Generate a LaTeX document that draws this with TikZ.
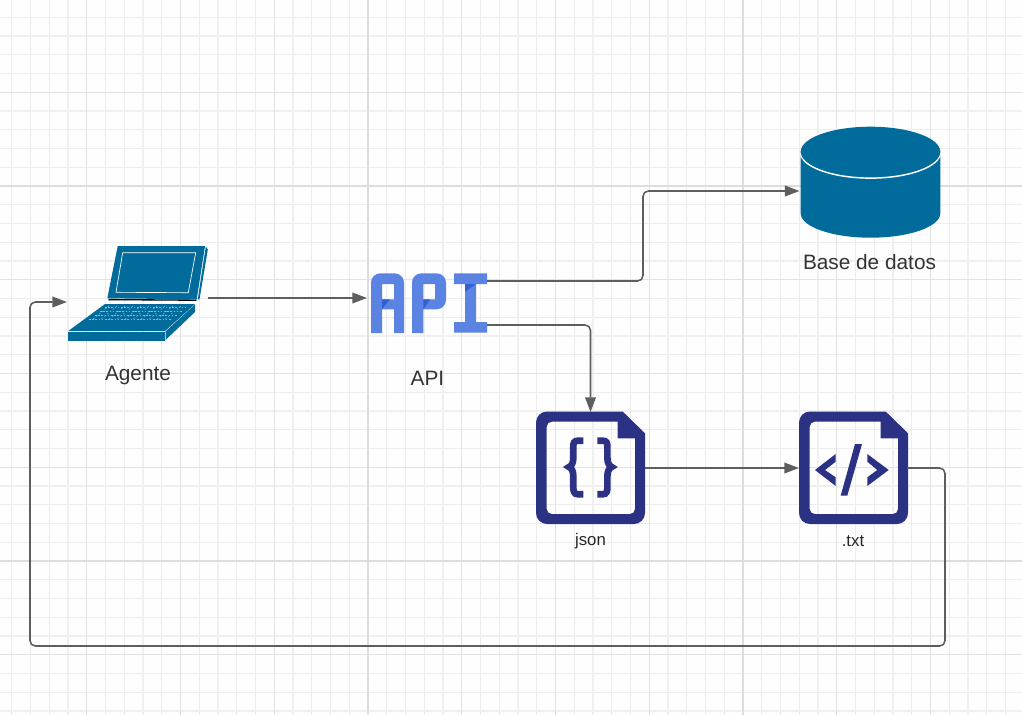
\documentclass[tikz,border=0pt]{standalone}
\usepackage{fontspec}
\setmainfont{Liberation Sans}
\usetikzlibrary{arrows.meta}
\definecolor{gridminor}{HTML}{EDEDED}
\definecolor{gridthick}{HTML}{F0F0F0}
\definecolor{gridmid}{HTML}{E2E2E2}
\definecolor{gridmajor}{HTML}{DDDDDD}
\definecolor{teal}{HTML}{016C9C}
\definecolor{navy}{HTML}{2B3284}
\definecolor{apilight}{HTML}{5B84E2}
\definecolor{apidark}{HTML}{2C62D6}
\definecolor{wire}{HTML}{5E5E5E}
\definecolor{labeltext}{HTML}{333333}
\tikzset{
  x=0.75pt,y=-0.75pt,
  box/.style 2 args={rectangle,minimum width=#1*0.75pt,minimum height=#2*0.75pt,inner sep=0pt,outer sep=0pt},
  biglabel/.style={text=labeltext,font=\fontsize{15.6pt}{18pt}\selectfont,inner sep=0pt},
  smalllabel/.style={text=black!85,font=\fontsize{12.6pt}{15pt}\selectfont,inner sep=0pt},
  wireline/.style={draw=wire,line width=1.15pt,rounded corners=4pt,-{Triangle[length=11pt,width=8pt]}},
  brace/.style={draw=navy,line width=5pt,line join=miter},
}
\newcommand{\fileicon}[1]{%
  \fill[navy,even odd rule,shift={(#1,0)}]
    (536,422.5) arc[start angle=180,end angle=270,radius=11] -- (622.7,411.5) -- (645,433.3) -- (645,513)
    arc[start angle=0,end angle=90,radius=11] -- (547,524)
    arc[start angle=90,end angle=180,radius=11] -- cycle
    (546.7,426.7) arc[start angle=180,end angle=270,radius=5] -- (617.7,421.7) -- (617.7,438.3) -- (635,438.3) -- (635,509)
    arc[start angle=0,end angle=90,radius=5] -- (551.7,514)
    arc[start angle=90,end angle=180,radius=5] -- cycle;%
}
\begin{document}
\begin{tikzpicture}
\useasboundingbox (0,0) rectangle (1022,715);
\fill[white!99.5!black] (0,0) rectangle (1022,715);
% grid
\foreach \x in {11.75,30.5,...,1022} \draw[gridminor,line width=0.9pt] (\x,0) -- (\x,715);
\foreach \y in {17.25,36,...,715} \draw[gridminor,line width=0.9pt] (0,\y) -- (1022,\y);
\foreach \x in {68,143,...,1022} \draw[gridthick,line width=1.7pt] (\x,0) -- (\x,715);
\foreach \y in {36,111,...,715} \draw[gridthick,line width=1.7pt] (0,\y) -- (1022,\y);
\foreach \x in {86.75,180.5,...,1022} \draw[gridmid,line width=0.9pt] (\x,0) -- (\x,715);
\foreach \y in {92.25,186,...,715} \draw[gridmid,line width=0.9pt] (0,\y) -- (1022,\y);
\foreach \x in {368,743} \draw[gridmajor,line width=1.6pt] (\x,0) -- (\x,715);
\foreach \y in {186,561} \draw[gridmajor,line width=1.6pt] (0,\y) -- (1022,\y);

% anchor boxes
\node[box={141}{104}] (laptop) at (137.5,298) {};
\node[box={120}{60}] (api) at (427,303) {};
\node[box={141}{111}] (db) at (870,182) {};
\node[box={109}{112}] (json) at (590.5,468) {};
\node[box={108}{112}] (txt) at (853,468) {};

% laptop
\fill[teal] (117.7,246) -- (205,246) -- (196.7,299.3) -- (107.3,298.3) -- cycle;
\fill[teal] (205.8,246.5) -- (207.8,249.5) -- (199.5,299.3) -- (197.8,299.3) -- cycle;
\draw[white,line width=0.5pt] (122.7,252.7) -- (195.7,252.7) -- (188.3,292.7) -- (116,292.3) -- cycle;
\draw[black,line width=1pt] (108.5,299.6) -- (196.5,300.2);
\fill[teal] (105,304) -- (195,304) -- (165,331) -- (68.3,331) -- cycle;
\fill[teal] (68.3,332) -- (164.5,332) -- (164.5,341) -- (68.3,341) -- cycle;
\fill[teal] (165.5,331.5) -- (195,304.5) -- (195,312) -- (165.5,340) -- cycle;
\draw[white!55!teal,line width=0.35pt,dash pattern=on 1.2pt off 1.2pt] (105,307.5) -- (186,307.5);
\draw[white!55!teal,line width=0.35pt,dash pattern=on 1.2pt off 1.2pt] (100,311) -- (183,311);
\draw[white!55!teal,line width=0.35pt,dash pattern=on 1.2pt off 1.2pt] (95,315) -- (178,315);
\draw[white!55!teal,line width=0.35pt,dash pattern=on 1.2pt off 1.2pt] (89,319) -- (172,319);
\foreach \d in {0,8,...,72}
  \draw[white!55!teal,line width=0.35pt,dash pattern=on 1.2pt off 1.6pt] (109+\d,306) -- (92+\d,320);

% API icon
\fill[apilight,even odd rule]
  (371,333) [rounded corners=7pt] -- (371,273.3) -- (404,273.3) [sharp corners] -- (404,333) -- (394,333) -- (394,309.3) -- (382,309.3) -- (382,333) -- cycle
  (382,284) -- (394,284) -- (394,299.3) -- (382,299.3) -- cycle;
\fill[apidark] (382,299.3) -- (390,299.3) -- (382,309.3) -- cycle;
\fill[apilight,even odd rule]
  (412,333) [rounded corners=7pt] -- (412,273.3) -- (446,273.3) -- (446,309.3) [sharp corners] -- (423.3,309.3) -- (423.3,333) -- cycle
  (423.3,284) -- (435,284) -- (435,299.3) -- (423.3,299.3) -- cycle;
\fill[apidark] (423.3,299.3) -- (430,299.3) -- (423.3,309.3) -- cycle;
\fill[apilight]
  (454,273.3) -- (487,273.3) -- (487,284) -- (476,284) -- (476,322) -- (487,322) -- (487,332.7) -- (454,332.7) -- (454,322) -- (465,322) -- (465,284) -- (454,284) -- cycle;
\fill[apidark] (465,284) -- (476,284) -- (465,291.7) -- cycle;

% database
\fill[teal] (800.7,151.7) -- (800.7,213.3) arc[start angle=180,end angle=0,x radius=69.8,y radius=24.4] -- (940.3,151.7) -- cycle;
\draw[white,line width=1.1pt] (800.7,152.5) arc[start angle=180,end angle=0,x radius=69.8,y radius=25.6];
\fill[teal] (800.7,151.7) arc[start angle=180,end angle=0,x radius=69.8,y radius=24.6] arc[start angle=0,end angle=-180,x radius=69.8,y radius=25] -- cycle;

% file icons
\fileicon{0}
\fileicon{263}
% curly braces
\draw[brace] (583.3,440.7) -- (578,440.7) .. controls (574,440.7) and (573.3,443) .. (573.3,447) -- (573.3,458) .. controls (573.3,463) and (571.5,466) .. (569,467) .. controls (571.5,468) and (573.3,471) .. (573.3,476) -- (573.3,487) .. controls (573.3,491) and (574,494.3) .. (578,494.3) -- (583.3,494.3);
\draw[brace] (597.3,440.7) -- (602.7,440.7) .. controls (606.7,440.7) and (607.4,443) .. (607.4,447) -- (607.4,458) .. controls (607.4,463) and (609.2,466) .. (611.7,467) .. controls (609.2,468) and (607.4,471) .. (607.4,476) -- (607.4,487) .. controls (607.4,491) and (606.7,494.3) .. (602.7,494.3) -- (597.3,494.3);
% code symbol
\fill[navy] (835.7,454) -- (835.7,461.7) -- (825,470) -- (835.7,477.3) -- (835.7,486) -- (815,470) -- cycle;
\fill[navy] (867.3,454) -- (867.3,461.7) -- (877.3,470) -- (867.3,477.3) -- (867.3,486) -- (888.7,470) -- cycle;
\fill[navy] (855,444) -- (862,444) -- (847.3,495.7) -- (840.7,495.7) -- cycle;

% labels
\node[biglabel] (agentelabel) at (138,375.5) {Agente};
\node[biglabel] (apilabel) at (427.5,378) {API};
\node[biglabel] (dblabel) at (869.5,262) {Base de datos};
\node[smalllabel] (jsonlabel) at (590.5,541) {json};
\node[smalllabel] (txtlabel) at (853,541) {.txt};

% connectors
\draw[wireline] (laptop.east) -- ([yshift=3.75pt]api.west);
\draw[wireline] ([yshift=16.5pt]api.east) -| (643,236) |- ([yshift=-6.75pt]db.west);
\draw[wireline] ([yshift=-16.5pt]api.east) -| (json.north);
\draw[wireline] (json.east) -- (txt.west);
\draw[wireline] (txt.east) -| (945,646) -| (30,302) -- ([yshift=-3pt]laptop.west);
\end{tikzpicture}
\end{document}
